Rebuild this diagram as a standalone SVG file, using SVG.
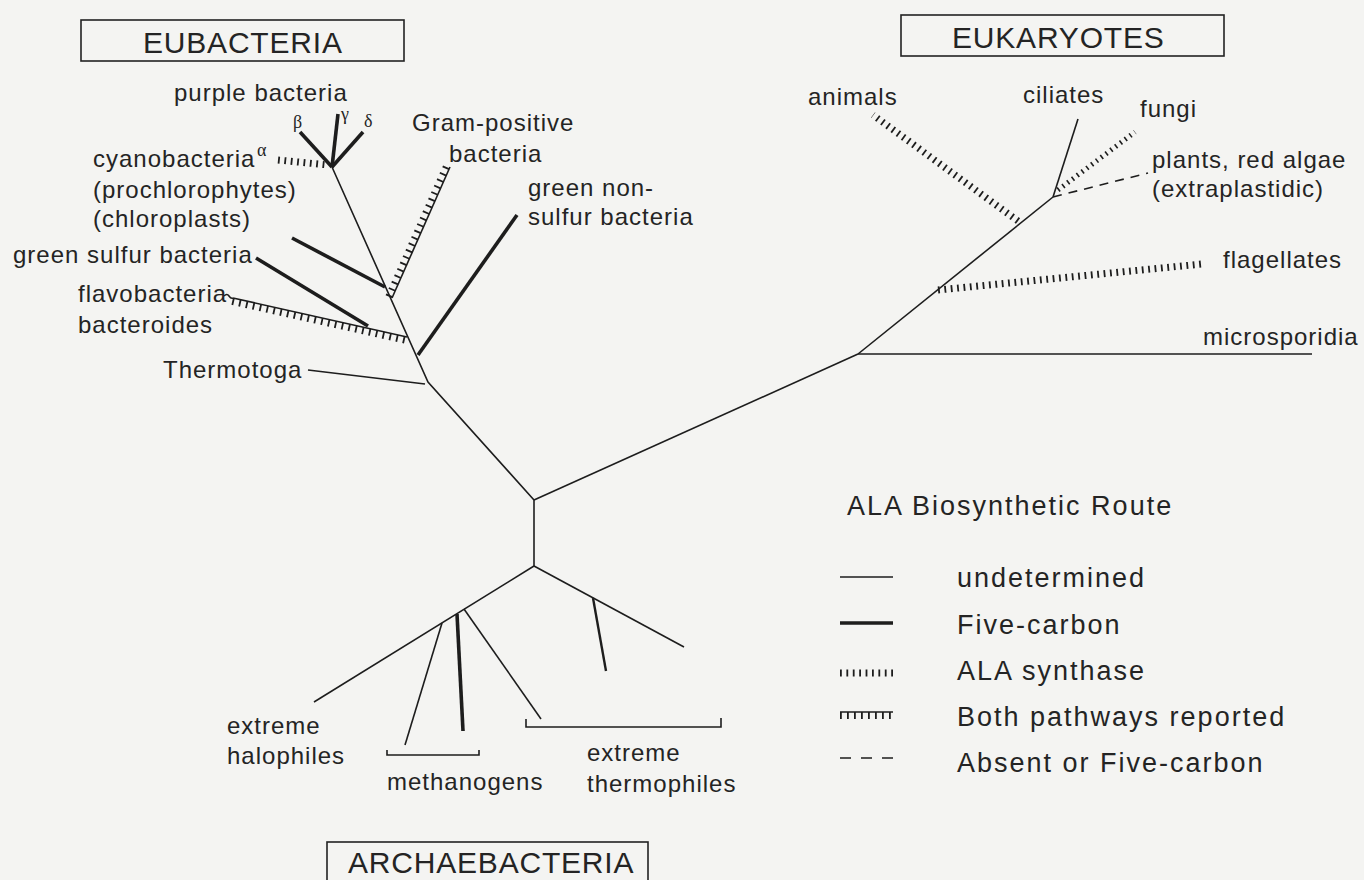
<svg xmlns="http://www.w3.org/2000/svg" width="1364" height="880" viewBox="0 0 1364 880">
<style>
.bg{fill:#f4f4f2}
.ln{stroke:#1d1d1d;fill:none;stroke-linecap:butt}
.thin{stroke-width:1.6}
.thick{stroke-width:3.6}
.mid{stroke-width:2.4}
.ala{stroke-width:7;stroke-dasharray:1.8 4.6}
.alas{stroke-width:5;stroke-dasharray:1.6 4.4}
.tick{stroke-width:7;stroke-dasharray:1.8 5.2}
.dash{stroke-width:1.6;stroke-dasharray:9 7}
.box{fill:none;stroke:#222;stroke-width:1.6}
text{font-family:"Liberation Sans",Arial,Helvetica,sans-serif;fill:#242424}
.lbl{font-size:24px;letter-spacing:1px}
.leg{font-size:27px;letter-spacing:2px}
.ttl{font-size:30px;letter-spacing:0.8px}
.gr{font-family:"Liberation Serif","Times New Roman",serif;font-size:18px}
</style>
<rect class="bg" x="0" y="0" width="1364" height="880"/>

<g id="connectors">
  <!-- trunk and main stems -->
  <line class="ln thin" x1="534" y1="500" x2="534" y2="566"/>
  <polyline class="ln thin" points="534,500 428,382 332,167"/>
  <line class="ln thin" x1="534" y1="500" x2="858" y2="354"/>
  <line class="ln thin" x1="858" y1="354" x2="1053" y2="197"/>
  <line class="ln thin" x1="858" y1="354" x2="1312" y2="354"/>
  <!-- eubacteria branches -->
  <line class="ln thick" x1="332" y1="167" x2="300" y2="132"/>
  <line class="ln thick" x1="332" y1="167" x2="338" y2="114"/>
  <line class="ln thick" x1="332" y1="167" x2="363" y2="132"/>
  <line class="ln ala" x1="278" y1="160" x2="328" y2="165"/>
  <line class="ln thick" x1="292" y1="238" x2="385" y2="287"/>
  <line class="ln thin" x1="392" y1="298" x2="450" y2="167"/>
  <line class="ln tick" x1="388.8" y1="296.6" x2="446.8" y2="165.6"/>
  <line class="ln thick" x1="256" y1="258" x2="368" y2="326"/>
  <line class="ln thin" x1="233" y1="298" x2="407" y2="337"/>
  <line class="ln tick" x1="232.2" y1="301.4" x2="406.2" y2="340.4"/>
  <path class="ln thin" d="M224,296 q3,-3 5,0 t4,2"/>
  <line class="ln thick" x1="418" y1="355" x2="517" y2="215"/>
  <line class="ln thin" x1="308" y1="370" x2="425" y2="384"/>
  <!-- eukaryote branches -->
  <line class="ln ala" x1="938" y1="290" x2="1202" y2="264"/>
  <line class="ln ala" x1="1018" y1="221" x2="873" y2="115"/>
  <line class="ln thin" x1="1053" y1="197" x2="1078" y2="119"/>
  <line class="ln alas" x1="1058" y1="190" x2="1135" y2="132"/>
  <line class="ln dash" x1="1053" y1="197" x2="1148" y2="173"/>
  <!-- archaebacteria branches -->
  <line class="ln thin" x1="534" y1="566" x2="314" y2="702"/>
  <line class="ln thin" x1="534" y1="566" x2="684" y2="647"/>
  <line class="ln mid" x1="593" y1="598" x2="606" y2="671"/>
  <line class="ln thin" x1="442" y1="623" x2="405" y2="745"/>
  <line class="ln thick" x1="457" y1="614" x2="463" y2="731"/>
  <line class="ln thin" x1="464" y1="609" x2="541" y2="719"/>
  <path class="ln thin" d="M387,750 V755 H479 V750"/>
  <path class="ln thin" d="M526,719 V727 H721 V718"/>
</g>

<g id="eubacteria-title"><rect class="box" x="81" y="20" width="323" height="41"/><text class="ttl" x="143" y="53">EUBACTERIA</text></g>
<g id="eukaryotes-title"><rect class="box" x="901" y="15" width="323" height="41"/><text class="ttl" x="952" y="48">EUKARYOTES</text></g>
<g id="archaebacteria-title"><rect class="box" x="327" y="842" width="321" height="50"/><text class="ttl" x="348" y="873">ARCHAEBACTERIA</text></g>

<g id="purple-bacteria"><text class="lbl" x="174" y="101">purple bacteria</text>
  <text class="gr" x="293" y="128">β</text><text class="gr" x="341" y="120" font-size="12">γ</text><text class="gr" x="364" y="127">δ</text></g>
<g id="cyanobacteria"><text class="lbl" x="93" y="167">cyanobacteria</text><text class="gr" x="257" y="156" font-size="16">α</text>
  <text class="lbl" x="93" y="198">(prochlorophytes)</text><text class="lbl" x="93" y="227">(chloroplasts)</text></g>
<g id="gram-positive"><text class="lbl" x="412" y="131">Gram-positive</text><text class="lbl" x="449" y="162">bacteria</text></g>
<g id="green-non-sulfur"><text class="lbl" x="528" y="196">green non-</text><text class="lbl" x="528" y="225">sulfur bacteria</text></g>
<g id="green-sulfur"><text class="lbl" x="13" y="263">green sulfur bacteria</text></g>
<g id="flavobacteria"><text class="lbl" x="78" y="302">flavobacteria</text><text class="lbl" x="78" y="333">bacteroides</text></g>
<g id="thermotoga"><text class="lbl" x="163" y="378">Thermotoga</text></g>

<g id="animals"><text class="lbl" x="808" y="105">animals</text></g>
<g id="ciliates"><text class="lbl" x="1023" y="103">ciliates</text></g>
<g id="fungi"><text class="lbl" x="1140" y="117">fungi</text></g>
<g id="plants"><text class="lbl" x="1152" y="168">plants, red algae</text><text class="lbl" x="1152" y="197">(extraplastidic)</text></g>
<g id="flagellates"><text class="lbl" x="1223" y="268">flagellates</text></g>
<g id="microsporidia"><text class="lbl" x="1203" y="345">microsporidia</text></g>

<g id="halophiles"><text class="lbl" x="227" y="734">extreme</text><text class="lbl" x="227" y="764">halophiles</text></g>
<g id="methanogens"><text class="lbl" x="387" y="790">methanogens</text></g>
<g id="thermophiles"><text class="lbl" x="587" y="761">extreme</text><text class="lbl" x="587" y="792">thermophiles</text></g>

<g id="legend">
  <text class="leg" x="847" y="515">ALA Biosynthetic Route</text>
  <line class="ln thin" x1="840" y1="577" x2="893" y2="577"/>
  <text class="leg" x="957" y="587">undetermined</text>
  <line class="ln thick" x1="840" y1="623" x2="893" y2="623"/>
  <text class="leg" x="957" y="634">Five-carbon</text>
  <line class="ln ala" x1="840" y1="673" x2="893" y2="673"/>
  <text class="leg" x="957" y="680">ALA synthase</text>
  <line class="ln thin" x1="840" y1="712" x2="893" y2="712"/>
  <line class="ln tick" x1="840" y1="715.5" x2="893" y2="715.5"/>
  <text class="leg" x="957" y="726">Both pathways reported</text>
  <line class="ln thin" x1="840" y1="758" x2="893" y2="758" stroke-dasharray="11 10"/>
  <text class="leg" x="957" y="772">Absent or Five-carbon</text>
</g>
</svg>
